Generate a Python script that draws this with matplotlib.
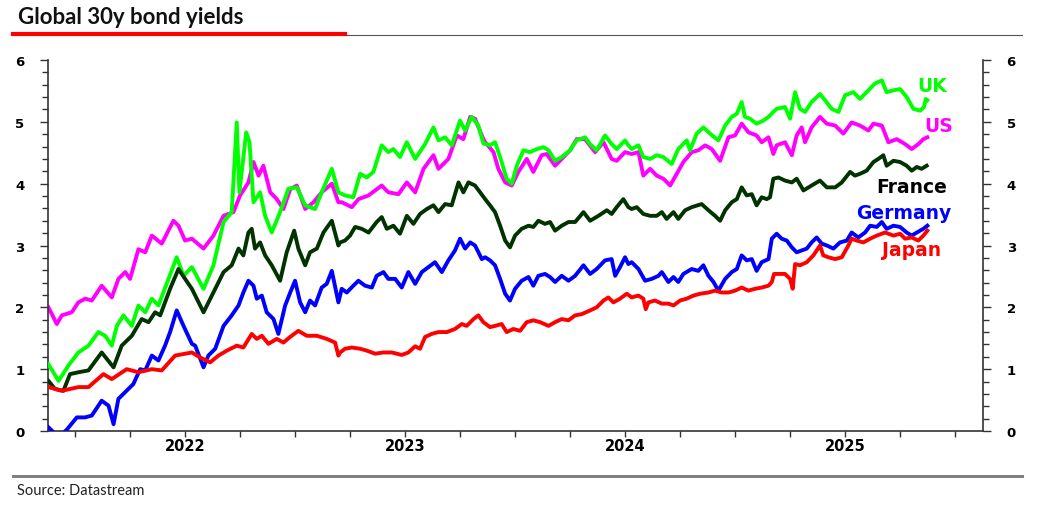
import matplotlib
matplotlib.use("Agg")
import matplotlib.pyplot as plt
from matplotlib.lines import Line2D
from matplotlib.ticker import MultipleLocator, FixedLocator

# time axis in decimal years, yields in %
us_t = [2021.879, 2021.917, 2021.940, 2021.985, 2022.015, 2022.046, 2022.076, 2022.121, 2022.167, 2022.197,
        2022.228, 2022.250, 2022.288, 2022.319, 2022.349, 2022.394, 2022.447, 2022.470, 2022.500, 2022.531,
        2022.584, 2022.629, 2022.675, 2022.720, 2022.750, 2022.788, 2022.811, 2022.834, 2022.856, 2022.887,
        2022.917, 2022.947, 2022.978, 2023.008, 2023.046, 2023.084, 2023.121, 2023.167, 2023.197,
        2023.212, 2023.258, 2023.288, 2023.334, 2023.394, 2023.424, 2023.470, 2023.508, 2023.546, 2023.584,
        2023.629, 2023.652, 2023.697, 2023.735, 2023.765, 2023.796, 2023.818, 2023.856,
        2023.864, 2023.902, 2023.924, 2023.955, 2023.985, 2024.015, 2024.053, 2024.083, 2024.121, 2024.144,
        2024.182, 2024.212, 2024.250, 2024.280, 2024.318, 2024.364, 2024.402, 2024.439, 2024.462, 2024.500,
        2024.530, 2024.561, 2024.583, 2024.614, 2024.644, 2024.674, 2024.705, 2024.735, 2024.765, 2024.803,
        2024.833, 2024.864, 2024.894, 2024.932, 2024.970, 2025.000, 2025.030, 2025.061, 2025.098, 2025.121,
        2025.152, 2025.174, 2025.189, 2025.227, 2025.258, 2025.280, 2025.303, 2025.318, 2025.348, 2025.386,
        2025.417, 2025.455, 2025.492, 2025.530, 2025.568, 2025.606, 2025.629, 2025.667, 2025.697, 2025.735,
        2025.773, 2025.803, 2025.833, 2025.856, 2025.874]
us_y = [2.00, 1.73, 1.87, 1.92, 2.08, 2.14, 2.11, 2.35, 2.16, 2.46,
        2.57, 2.46, 2.94, 2.89, 3.16, 3.03, 3.40, 3.32, 3.08, 3.11,
        2.95, 3.16, 3.48, 3.54, 3.81, 4.02, 4.35, 4.13, 4.29, 3.86,
        3.75, 3.59, 3.91, 3.97, 3.59, 3.70, 3.86, 4.00, 3.70,
        3.70, 3.62, 3.75, 3.81, 3.97, 3.86, 3.83, 4.02, 3.86, 4.24,
        4.46, 4.24, 4.40, 4.78, 4.72, 5.08, 5.05, 4.72,
        4.67, 4.51, 4.24, 4.02, 3.97, 4.19, 4.40, 4.19, 4.46, 4.48,
        4.29, 4.40, 4.54, 4.72, 4.72, 4.51, 4.67, 4.40, 4.37, 4.51,
        4.48, 4.51, 4.13, 4.24, 4.13, 4.08, 3.97, 4.16, 4.35, 4.51,
        4.54, 4.62, 4.56, 4.37, 4.75, 4.78, 4.97, 4.83, 4.78, 4.67,
        4.75, 4.48, 4.62, 4.67, 4.46, 4.78, 4.91, 4.67, 4.91, 5.08,
        4.97, 4.94, 4.81, 4.99, 4.94, 4.86, 4.97, 4.94, 4.67, 4.72,
        4.64, 4.56, 4.64, 4.72, 4.75]

uk_t = [2021.879, 2021.925, 2021.970, 2022.015, 2022.061, 2022.106, 2022.137, 2022.167, 2022.190, 2022.220,
        2022.258, 2022.288, 2022.319, 2022.349, 2022.379, 2022.425, 2022.462, 2022.493, 2022.531,
        2022.584, 2022.629, 2022.675, 2022.712, 2022.735, 2022.747, 2022.778, 2022.793, 2022.811, 2022.841,
        2022.864, 2022.894, 2022.932, 2022.970, 2023.008, 2023.046, 2023.091, 2023.121, 2023.167, 2023.197,
        2023.227, 2023.265, 2023.296, 2023.326, 2023.356, 2023.394, 2023.424, 2023.447, 2023.477, 2023.508,
        2023.546, 2023.591, 2023.629, 2023.652, 2023.682, 2023.712, 2023.750, 2023.773, 2023.803, 2023.833,
        2023.856,
        2023.886, 2023.909, 2023.932, 2023.962, 2023.985, 2024.008, 2024.038, 2024.068, 2024.099, 2024.129,
        2024.152, 2024.182, 2024.212, 2024.250, 2024.280, 2024.318, 2024.341, 2024.371, 2024.409, 2024.439,
        2024.462, 2024.500, 2024.515,
        2024.530, 2024.561, 2024.583, 2024.614, 2024.644, 2024.674, 2024.712, 2024.742, 2024.780, 2024.795,
        2024.826, 2024.856, 2024.886, 2024.924, 2024.955, 2024.985, 2025.008, 2025.030, 2025.045, 2025.068,
        2025.098, 2025.129, 2025.152, 2025.174,
        2025.189, 2025.227, 2025.250, 2025.273, 2025.295, 2025.318, 2025.348, 2025.386, 2025.409, 2025.439,
        2025.470, 2025.500, 2025.538, 2025.568, 2025.606, 2025.636, 2025.667, 2025.689, 2025.720, 2025.750,
        2025.780, 2025.811, 2025.841, 2025.859, 2025.867, 2025.874]
uk_y = [1.08, 0.81, 1.06, 1.27, 1.38, 1.60, 1.54, 1.38, 1.70, 1.87,
        1.70, 2.03, 1.92, 2.14, 2.03, 2.46, 2.81, 2.51, 2.65,
        2.30, 2.68, 3.38, 3.54, 4.99, 3.86, 4.83, 4.67, 3.70, 3.86,
        3.48, 3.21, 3.54, 3.92, 3.94, 3.65, 3.59, 3.86, 4.24, 3.86,
        3.81, 3.78, 4.16, 4.10, 4.19, 4.62, 4.51, 4.56, 4.43, 4.67,
        4.40, 4.64, 4.91, 4.70, 4.75, 4.62, 5.02, 4.86, 5.08, 4.94,
        4.65,
        4.62, 4.67, 4.43, 4.08, 4.00, 4.29, 4.54, 4.51, 4.56, 4.59,
        4.54, 4.37, 4.43, 4.54, 4.70, 4.75, 4.64, 4.54, 4.78, 4.64,
        4.56, 4.70, 4.62,
        4.56, 4.62, 4.43, 4.40, 4.46, 4.43, 4.32, 4.56, 4.70, 4.54,
        4.81, 4.91, 4.81, 4.70, 4.94, 5.08, 5.13, 5.32, 5.08, 5.05,
        4.97, 5.02, 5.08, 5.16,
        5.21, 5.24, 5.05, 5.48, 5.21, 5.16, 5.32, 5.45, 5.35, 5.21,
        5.16, 5.43, 5.48, 5.37, 5.51, 5.62, 5.67, 5.48, 5.51, 5.53,
        5.40, 5.21, 5.18, 5.24, 5.37, 5.35]

fr_t = [2021.879, 2021.909, 2021.947, 2021.977, 2022.015, 2022.061, 2022.121, 2022.175, 2022.212, 2022.258,
        2022.303, 2022.334, 2022.364, 2022.387, 2022.432, 2022.470, 2022.500, 2022.531,
        2022.584, 2022.629, 2022.675, 2022.712, 2022.743, 2022.765, 2022.788, 2022.803, 2022.818, 2022.841,
        2022.864, 2022.894, 2022.932, 2022.962, 2022.996, 2023.015, 2023.046, 2023.068, 2023.099, 2023.129,
        2023.167, 2023.197,
        2023.205, 2023.227, 2023.250, 2023.273, 2023.303, 2023.334, 2023.371, 2023.394, 2023.417, 2023.447,
        2023.477, 2023.508, 2023.538, 2023.568, 2023.599, 2023.629, 2023.652, 2023.682, 2023.712, 2023.743,
        2023.765, 2023.788, 2023.818,
        2023.841, 2023.864, 2023.886, 2023.909, 2023.932, 2023.955, 2023.977, 2024.000, 2024.030, 2024.061,
        2024.083, 2024.106, 2024.136, 2024.159, 2024.182, 2024.212, 2024.243, 2024.273, 2024.311, 2024.341,
        2024.379, 2024.417, 2024.439, 2024.462, 2024.492, 2024.515,
        2024.530, 2024.553, 2024.583, 2024.614, 2024.644, 2024.667, 2024.689, 2024.720, 2024.742, 2024.773,
        2024.803, 2024.848, 2024.879, 2024.909, 2024.932, 2024.955, 2024.985, 2025.008, 2025.030, 2025.053,
        2025.076, 2025.098, 2025.121, 2025.144, 2025.159,
        2025.174, 2025.197, 2025.227, 2025.258, 2025.280, 2025.311, 2025.348, 2025.386, 2025.417, 2025.455,
        2025.485, 2025.523, 2025.545, 2025.568, 2025.598, 2025.629, 2025.651, 2025.674, 2025.689, 2025.720,
        2025.750, 2025.780, 2025.803, 2025.826, 2025.848, 2025.871]
fr_y = [0.81, 0.68, 0.65, 0.92, 0.95, 0.98, 1.27, 1.03, 1.38, 1.54,
        1.81, 1.76, 1.92, 1.87, 2.30, 2.62, 2.46, 2.30,
        1.92, 2.24, 2.57, 2.68, 2.95, 2.84, 3.21, 3.27, 2.95, 3.05,
        2.84, 2.68, 2.43, 2.89, 3.24, 2.95, 2.68, 2.89, 2.95, 3.21,
        3.40, 3.00,
        3.05, 3.08, 3.16, 3.30, 3.27, 3.21, 3.38, 3.46, 3.27, 3.32,
        3.19, 3.48, 3.35, 3.51, 3.59, 3.65, 3.54, 3.67, 3.65, 4.02,
        3.86, 4.02, 3.97,
        3.86, 3.75, 3.65, 3.54, 3.32, 3.08, 2.97, 3.16, 3.27, 3.32,
        3.30, 3.40, 3.35, 3.38, 3.24, 3.32, 3.38, 3.38, 3.54, 3.40,
        3.48, 3.57, 3.51, 3.62, 3.75, 3.62,
        3.59, 3.62, 3.51, 3.48, 3.48, 3.54, 3.43, 3.54, 3.43, 3.57,
        3.62, 3.67, 3.57, 3.48, 3.40, 3.57, 3.70, 3.75, 3.94, 3.81,
        3.83, 3.65, 3.78, 3.75, 3.78,
        4.08, 4.10, 4.05, 4.02, 4.08, 3.89, 3.97, 4.05, 3.94, 3.94,
        4.02, 4.19, 4.13, 4.16, 4.21, 4.35, 4.40, 4.46, 4.29, 4.37,
        4.35, 4.29, 4.21, 4.27, 4.24, 4.29]

de_t = [2021.879, 2021.925, 2021.962, 2022.008, 2022.046, 2022.076, 2022.121, 2022.152, 2022.175, 2022.197,
        2022.228, 2022.265, 2022.296, 2022.319, 2022.349, 2022.379, 2022.409, 2022.432, 2022.462, 2022.493,
        2022.531,
        2022.546, 2022.584, 2022.606, 2022.637, 2022.675, 2022.712, 2022.743, 2022.765, 2022.788, 2022.811,
        2022.826, 2022.849, 2022.871, 2022.902, 2022.924, 2022.955, 2022.978, 2023.000, 2023.023, 2023.046,
        2023.068, 2023.091, 2023.121, 2023.144, 2023.167, 2023.197,
        2023.212, 2023.235, 2023.265, 2023.288, 2023.318, 2023.349, 2023.371, 2023.402, 2023.424, 2023.455,
        2023.485, 2023.515, 2023.546, 2023.576, 2023.606, 2023.636, 2023.667, 2023.697, 2023.727, 2023.750,
        2023.773, 2023.796, 2023.818, 2023.849,
        2023.864, 2023.886, 2023.909, 2023.932, 2023.955, 2023.977, 2024.000, 2024.030, 2024.061, 2024.083,
        2024.106, 2024.136, 2024.159, 2024.182, 2024.212, 2024.243, 2024.273, 2024.311, 2024.341, 2024.371,
        2024.409, 2024.439, 2024.455, 2024.477, 2024.500, 2024.515,
        2024.530, 2024.561, 2024.591, 2024.621, 2024.652, 2024.667, 2024.697, 2024.720, 2024.742, 2024.765,
        2024.803, 2024.833, 2024.856, 2024.879, 2024.902, 2024.924, 2024.955, 2024.985, 2025.008, 2025.030,
        2025.053, 2025.076, 2025.098, 2025.121, 2025.152, 2025.167,
        2025.189, 2025.212, 2025.235, 2025.258, 2025.280, 2025.303, 2025.326, 2025.348, 2025.371, 2025.394,
        2025.417, 2025.447, 2025.477, 2025.508, 2025.530, 2025.560, 2025.591, 2025.614, 2025.644, 2025.667,
        2025.689, 2025.720, 2025.750, 2025.780, 2025.803, 2025.826, 2025.856, 2025.874]
de_y = [0.06, -0.10, 0.02, 0.22, 0.22, 0.25, 0.49, 0.41, 0.11, 0.52,
        0.63, 0.76, 1.00, 0.98, 1.22, 1.14, 1.38, 1.60, 1.95, 1.70,
        1.41,
        1.38, 1.03, 1.22, 1.33, 1.70, 1.87, 2.03, 2.24, 2.43, 2.35,
        2.14, 2.19, 1.92, 1.81, 1.57, 2.03, 2.24, 2.43, 2.08, 1.92,
        2.11, 2.03, 2.32, 2.38, 2.59, 2.08,
        2.30, 2.24, 2.35, 2.43, 2.35, 2.32, 2.51, 2.57, 2.46, 2.46,
        2.32, 2.57, 2.38, 2.57, 2.65, 2.73, 2.57, 2.76, 2.92, 3.11,
        2.95, 3.05, 3.00, 2.78,
        2.81, 2.76, 2.68, 2.46, 2.22, 2.11, 2.30, 2.43, 2.49, 2.35,
        2.51, 2.54, 2.49, 2.41, 2.51, 2.43, 2.51, 2.68, 2.54, 2.62,
        2.76, 2.78, 2.51, 2.65, 2.81, 2.70,
        2.73, 2.62, 2.43, 2.46, 2.51, 2.57, 2.41, 2.49, 2.41, 2.54,
        2.62, 2.59, 2.68, 2.51, 2.41, 2.27, 2.46, 2.57, 2.62, 2.84,
        2.76, 2.78, 2.59, 2.73, 2.78, 3.11,
        3.19, 3.11, 3.08, 2.97, 2.89, 2.92, 2.95, 3.05, 3.13, 3.03,
        3.00, 2.95, 3.05, 3.08, 3.21, 3.13, 3.21, 3.32, 3.30, 3.38,
        3.27, 3.32, 3.30, 3.21, 3.16, 3.21, 3.27, 3.32]

jp_t = [2021.879, 2021.940, 2022.015, 2022.061, 2022.129, 2022.167, 2022.235, 2022.288, 2022.349, 2022.394,
        2022.455, 2022.500, 2022.531,
        2022.568, 2022.614, 2022.652, 2022.690, 2022.735, 2022.765, 2022.803, 2022.826, 2022.849, 2022.879,
        2022.917, 2022.947, 2022.977, 2023.015, 2023.053, 2023.099, 2023.144, 2023.182, 2023.197,
        2023.205, 2023.227, 2023.258, 2023.296, 2023.326, 2023.364, 2023.402, 2023.440, 2023.485, 2023.515,
        2023.546, 2023.568, 2023.591, 2023.621, 2023.652, 2023.690, 2023.727, 2023.758, 2023.780, 2023.811,
        2023.833, 2023.856,
        2023.886, 2023.909, 2023.939, 2023.962, 2023.992, 2024.023, 2024.053, 2024.083, 2024.114, 2024.152,
        2024.182, 2024.212, 2024.243, 2024.273, 2024.303, 2024.341, 2024.371, 2024.402, 2024.424, 2024.447,
        2024.477, 2024.508,
        2024.530, 2024.561, 2024.583, 2024.594, 2024.606, 2024.636, 2024.667, 2024.697, 2024.720, 2024.750,
        2024.780, 2024.811, 2024.841, 2024.879, 2024.909, 2024.939, 2024.970, 2025.000, 2025.030, 2025.061,
        2025.091, 2025.121, 2025.152, 2025.167, 2025.177,
        2025.189, 2025.227, 2025.250, 2025.262, 2025.273, 2025.295, 2025.326, 2025.356, 2025.386, 2025.401,
        2025.424, 2025.455, 2025.485, 2025.515, 2025.530, 2025.553, 2025.583, 2025.614, 2025.644, 2025.682,
        2025.720, 2025.750, 2025.773, 2025.803, 2025.833, 2025.856, 2025.874]
jp_y = [0.71, 0.65, 0.71, 0.71, 0.92, 0.84, 1.00, 0.95, 1.00, 0.98,
        1.22, 1.25, 1.27,
        1.19, 1.11, 1.22, 1.30, 1.38, 1.35, 1.57, 1.49, 1.54, 1.41,
        1.49, 1.43, 1.52, 1.62, 1.54, 1.54, 1.49, 1.43, 1.22,
        1.27, 1.33, 1.35, 1.33, 1.30, 1.25, 1.27, 1.27, 1.23, 1.27,
        1.37, 1.33, 1.52, 1.57, 1.60, 1.60, 1.65, 1.73, 1.70, 1.81,
        1.87, 1.76,
        1.68, 1.70, 1.73, 1.60, 1.65, 1.62, 1.76, 1.79, 1.76, 1.70,
        1.76, 1.81, 1.79, 1.87, 1.89, 1.95, 2.00, 2.11, 2.16, 2.08,
        2.14, 2.22,
        2.16, 2.19, 2.14, 1.97, 2.08, 2.11, 2.06, 2.06, 2.03, 2.11,
        2.14, 2.19, 2.22, 2.24, 2.27, 2.24, 2.24, 2.27, 2.32, 2.27,
        2.30, 2.32, 2.35, 2.41, 2.54,
        2.54, 2.54, 2.46, 2.30, 2.70, 2.68, 2.73, 2.84, 3.00, 2.84,
        2.81, 2.78, 2.81, 3.00, 3.11, 3.08, 3.05, 3.11, 3.16, 3.21,
        3.16, 3.19, 3.11, 3.13, 3.08, 3.16, 3.24]

year_labels = ["2022", "2023", "2024", "2025"]

fig = plt.figure(figsize=(10.42, 5.06), dpi=100)
ax = fig.add_axes([48/1042, 74/506, 935/1042, 371/506])

lw = 2.8
ax.plot(us_t, us_y, color="#FF00FF", lw=lw, zorder=2, solid_joinstyle="round")
ax.plot(uk_t, uk_y, color="#00FF00", lw=lw, zorder=3, solid_joinstyle="round")
ax.plot(fr_t, fr_y, color="#003300", lw=lw, zorder=3, solid_joinstyle="round")
ax.plot(de_t, de_y, color="#0000FF", lw=lw, zorder=3, solid_joinstyle="round")
ax.plot(jp_t, jp_y, color="#FF0000", lw=lw, zorder=4, solid_joinstyle="round")

lab = dict(fontsize=13.5, fontweight="bold", va="center", ha="left", family="DejaVu Sans")
ax.text(2025.83, 5.58, "UK", color="#00FF00", **lab)
ax.text(2025.86, 4.94, "US", color="#FF00FF", **lab)
ax.text(2025.64, 3.96, "France", color="#000000", **lab)
ax.text(2025.55, 3.54, "Germany", color="#0000FF", **lab)
ax.text(2025.67, 2.94, "Japan", color="#FF0000", **lab)

ax.set_xlim(2021.877, 2026.127)
ax.set_ylim(0, 6)

for s in ["left", "right", "bottom"]:
    ax.spines[s].set_color("#333333")
    ax.spines[s].set_linewidth(1.2)
ax.spines["top"].set_visible(False)

ax.yaxis.set_minor_locator(MultipleLocator(0.2))
ax.set_yticks(range(7))
ax.set_yticklabels([str(i) for i in range(7)], fontweight="bold")
ax.tick_params(axis="y", which="major", direction="out", length=6, width=1, pad=11,
               color="#333333", left=True, right=True, labelleft=True, labelright=True,
               labelsize=9.5)
ax.tick_params(axis="y", which="minor", direction="out", length=4, width=1,
               color="#333333", left=True, right=True)

# quarterly ticks, year labels centred mid-year
ax.xaxis.remove_overlapping_locs = False
ax.xaxis.set_major_locator(FixedLocator([2022 + 0.25 * i for i in range(17)]))
ax.xaxis.set_minor_locator(FixedLocator([2022.5, 2023.5, 2024.5, 2025.5]))
ax.set_xticklabels([], minor=False)
ax.set_xticklabels(year_labels, minor=True, fontweight="bold")
ax.tick_params(axis="x", which="major", direction="out", length=4, width=1, color="#333333",
               labelbottom=False)
ax.tick_params(axis="x", which="minor", length=0, pad=5, labelsize=10.5, labelbottom=True)

# header / footer decoration
fig.text(18/1042, 1 - 18/506, "Global 30y bond yields", fontsize=16, fontweight="bold",
         family="Lato", va="center", ha="left", color="#111111")
fig.add_artist(Line2D([345/1042, 1022/1042], [1 - 36/506] * 2, color="#555555", lw=0.8))
fig.add_artist(Line2D([13/1042, 345/1042], [1 - 34.5/506] * 2, color="#FF0000", lw=3.0))
fig.add_artist(Line2D([13/1042, 1022/1042], [1 - 477/506] * 2, color="#808080", lw=2.2))
fig.text(17/1042, 1 - 491/506, "Source: Datastream", fontsize=10.5, family="Lato",
         va="center", ha="left", color="#222222")

fig.savefig("out.png", dpi=100)
